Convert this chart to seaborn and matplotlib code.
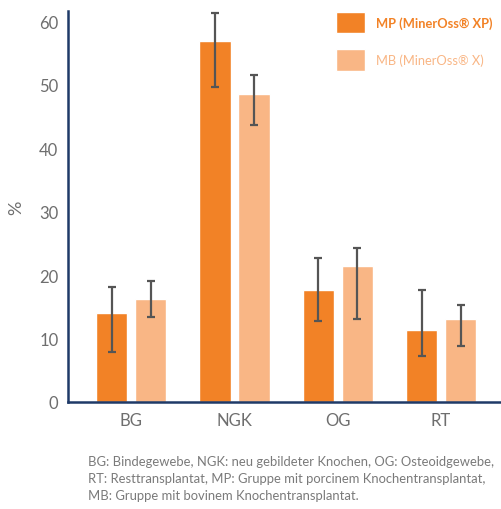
import numpy as np
import pandas as pd
import matplotlib
matplotlib.use("Agg")
import matplotlib.pyplot as plt
import seaborn as sns

categories = ["BG", "NGK", "OG", "RT"]
groups = ["MP (MinerOss® XP)", "MB (MinerOss® X)"]
mp_mean = [14.0, 56.9, 17.6, 11.3]
mp_low = [7.9, 49.6, 12.8, 7.2]
mp_high = [18.1, 61.4, 22.7, 17.6]
mb_mean = [16.2, 48.5, 21.4, 13.1]
mb_low = [13.4, 43.6, 13.1, 8.8]
mb_high = [19.1, 51.6, 24.3, 15.3]

caption = ("BG: Bindegewebe, NGK: neu gebildeter Knochen, OG: Osteoidgewebe,\n"
           "RT: Resttransplantat, MP: Gruppe mit porcinem Knochentransplantat,\n"
           "MB: Gruppe mit bovinem Knochentransplantat.")

c_mp = "#F28226"
c_mb = "#F9B685"
navy = "#1F3A68"
grey = "#6E6E6E"

sns.set_style("white")
plt.rcParams['font.family'] = ['Lato', 'DejaVu Sans']

df = pd.DataFrame({
    "cat": categories * 2,
    "group": [groups[0]] * 4 + [groups[1]] * 4,
    "val": mp_mean + mb_mean,
})

fig = plt.figure(figsize=(5.01, 5.10), dpi=100)
ax = fig.add_axes([0.136, 0.210, 0.862, 0.766])

sns.barplot(data=df, x="cat", y="val", hue="group", order=categories,
            hue_order=groups, palette=[c_mp, c_mb], width=0.754, gap=0.2,
            errorbar=None, ax=ax, saturation=1)

# asymmetric error bars
means = [mp_mean, mb_mean]
lows = [mp_low, mb_low]
highs = [mp_high, mb_high]
for cont, m, lo, hi in zip(ax.containers, means, lows, highs):
    xs = [p.get_x() + p.get_width() / 2 for p in cont.patches]
    yerr = [np.array(m) - np.array(lo), np.array(hi) - np.array(m)]
    ax.errorbar(xs, m, yerr=yerr, fmt="none", ecolor="#555555",
                elinewidth=1.6, capsize=3.2, capthick=1.6)

ax.set_ylim(0, 61.6)
ax.set_xlim(-0.61, 3.57)
ax.set_yticks([0, 10, 20, 30, 40, 50, 60])
ax.tick_params(axis="both", length=0, labelsize=12, labelcolor=grey, pad=7)
ax.set_xlabel("")
ax.set_ylabel("%", fontsize=13, color=grey, labelpad=11)

for s in ["top", "right"]:
    ax.spines[s].set_visible(False)
for s in ["left", "bottom"]:
    ax.spines[s].set_color(navy)
    ax.spines[s].set_linewidth(1.8)

leg = ax.legend(loc="upper left", bbox_to_anchor=(0.600, 1.022), frameon=False,
                fontsize=9.3, handlelength=2.2, handleheight=2.2,
                labelspacing=1.25, handletextpad=0.9, borderaxespad=0.3)
texts = leg.get_texts()
texts[0].set_color(c_mp)
texts[0].set_fontweight("bold")
texts[1].set_color(c_mb)

fig.text(0.176, 0.105, caption, fontsize=9.4, color="#7A7A7A",
         va="top", ha="left", linespacing=1.5)

fig.savefig("out.png", dpi=100)
